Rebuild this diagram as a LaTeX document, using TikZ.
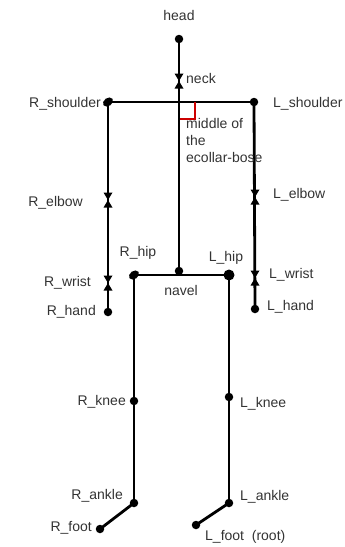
\documentclass[tikz,border=0pt]{standalone}
\usepackage{fontspec}
\setmainfont{Liberation Sans}
\usetikzlibrary{arrows.meta}
\begin{document}
\begin{tikzpicture}[x=1pt,y=-1pt,
  bone/.style={line width=2.8pt,black},
  joint/.style={circle,fill=black,inner sep=0pt,minimum size=8.5pt},
  lbl/.style={font=\fontsize{14}{16}\selectfont,text=black!80,inner sep=0pt},
  tie/.style={fill=black}]
\useasboundingbox (0,0) rectangle (345,547);
% joints
\coordinate (head) at (179,39);
\coordinate (neck) at (179,81);
\coordinate (mid) at (179,102);
\coordinate (navel) at (179,271);
\coordinate (Rsh) at (108,102);
\coordinate (Lsh) at (254,102);
\coordinate (Relb) at (108,200);
\coordinate (Lelb) at (255,197);
\coordinate (Rwr) at (108,283);
\coordinate (Lwr) at (255,278);
\coordinate (Rha) at (108,312);
\coordinate (Lha) at (255,309);
\coordinate (Rhip) at (134,275);
\coordinate (Lhip) at (229,275);
\coordinate (Rkn) at (134,401);
\coordinate (Lkn) at (229,397);
\coordinate (Rank) at (134,503);
\coordinate (Lank) at (229,503);
\coordinate (Rft) at (100,529);
\coordinate (Lft) at (196,525);
% bones
\draw[bone] (head) -- (navel);
\draw[bone] (Rsh) -- (Lsh);
\draw[bone] (Rsh) -- (Rha);
\draw[bone] (Lsh) -- (Lha);
\draw[bone] (Rhip) -- (Lhip);
\draw[bone] (Rhip) -- (Rank);
\draw[bone] (Lhip) -- (Lank);
\draw[bone] (Rank) -- (Rft);
\draw[bone] (Lank) -- (Lft);
% red right-angle mark
\draw[red!80!black,line width=1.3pt] (195,102) -- (195,119) -- (180,119);
% dots
\foreach \p in {head,navel,Lsh,Rha,Lha,Rank,Lank,Rft,Lft,Rkn,Lkn}
  \node[joint] at (\p) {};
\node[joint,minimum width=11pt,minimum height=8pt] at (Lhip) {};
\foreach \p in {Rhip,Rsh}
  \fill[rotate around={35:(\p)}] (\p) ellipse [x radius=5.5pt, y radius=4pt];
% bowties
\foreach \p in {neck,Relb,Lelb,Rwr,Lwr}
  \fill[tie] (\p) ++(-4.5,-7.5) -- ++(9,0) -- ++(-9,15) -- ++(9,0) -- cycle;
% labels
\node[lbl] at (179,15) {head};
\node[lbl,anchor=west] at (186,78) {neck};
\node[lbl,anchor=east] at (101,104) {R\_shoulder};
\node[lbl,anchor=west] at (273,104) {L\_shoulder};
\node[lbl,anchor=north west,align=left,font=\fontsize{14}{17}\selectfont] at (186,118) {middle of\\the\\ecollar-bose};
\node[lbl,anchor=east] at (83,203) {R\_elbow};
\node[lbl,anchor=west] at (273,195) {L\_elbow};
\node[lbl] at (138,253) {R\_hip};
\node[lbl] at (226,258) {L\_hip};
\node[lbl,anchor=east] at (91,283) {R\_wrist};
\node[lbl,anchor=west] at (269,275) {L\_wrist};
\node[lbl,anchor=east] at (96,312) {R\_hand};
\node[lbl,anchor=west] at (267,307) {L\_hand};
\node[lbl] at (181,290) {navel};
\node[lbl,anchor=east] at (126,402) {R\_knee};
\node[lbl,anchor=west] at (240,404) {L\_knee};
\node[lbl,anchor=east] at (123,496) {R\_ankle};
\node[lbl,anchor=west] at (240,497) {L\_ankle};
\node[lbl,anchor=east] at (92,528) {R\_foot};
\node[lbl,anchor=west] at (205,537) {L\_foot\ \ (root)};
\end{tikzpicture}
\end{document}
